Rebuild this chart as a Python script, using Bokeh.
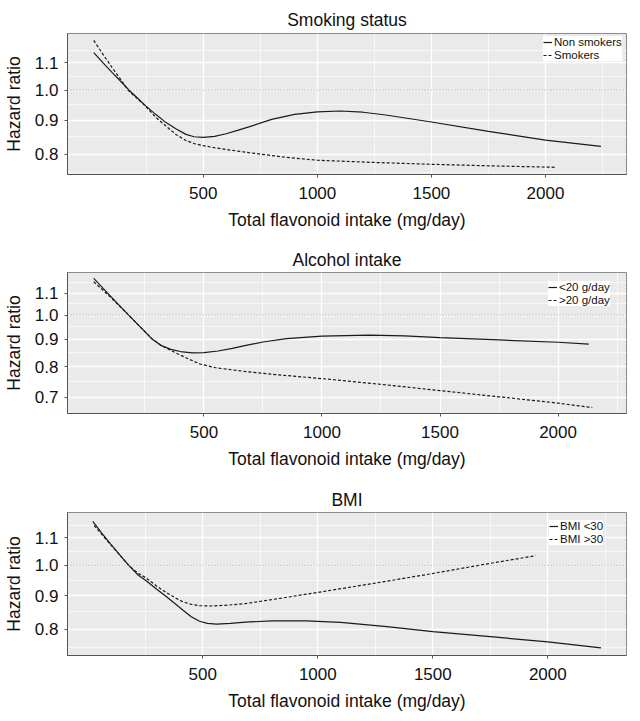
from bokeh.plotting import figure
from bokeh.layouts import column
from bokeh.models import (FixedTicker, PrintfTickFormatter, Span, Legend,
                          LegendItem, Range1d)
from bokeh.embed import file_html
from bokeh.resources import INLINE

FONT = "Liberation Sans"

# ---------------- data ----------------
x_ticks = [500, 1000, 1500, 2000]
x_minor = [250, 750, 1250, 1750, 2250]

# Panel 1: Smoking status
nonsmk_x = [20, 60, 100, 140, 175, 210, 249, 290, 337, 380, 424, 460, 500, 550, 600, 650, 700,
            800, 900, 1000, 1100, 1200, 1300, 1500, 1750, 2000, 2243]
nonsmk_y = [1.140, 1.101, 1.064, 1.030, 1.000, 0.974, 0.946, 0.920, 0.893, 0.874, 0.857, 0.850, 0.848,
            0.851, 0.859, 0.869, 0.880, 0.903, 0.919, 0.927, 0.930, 0.926, 0.917, 0.895, 0.866, 0.840, 0.822]
smk_x = [20, 60, 100, 140, 170, 210, 249, 290, 337, 380, 424, 460, 500, 550, 600, 700, 850,
         1000, 1250, 1500, 1750, 2040]
smk_y = [1.190, 1.134, 1.083, 1.036, 1.000, 0.972, 0.944, 0.911, 0.882, 0.857, 0.839, 0.830, 0.824,
         0.818, 0.813, 0.804, 0.792, 0.783, 0.777, 0.772, 0.768, 0.764]

# Panel 2: Alcohol intake
alc_lo_x = [33, 100, 181, 230, 280, 320, 360, 400, 450, 500, 560, 620, 678, 750, 850, 1000,
            1200, 1350, 1500, 1750, 2000, 2130]
alc_lo_y = [1.172, 1.090, 1.000, 0.950, 0.902, 0.876, 0.862, 0.854, 0.849, 0.850, 0.856, 0.866,
            0.877, 0.890, 0.903, 0.913, 0.917, 0.914, 0.907, 0.898, 0.889, 0.882]
alc_hi_x = [33, 100, 181, 230, 280, 320, 360, 400, 440, 484, 550, 678, 800, 1006, 1250, 1500,
            1750, 2000, 2145]
alc_hi_y = [1.155, 1.085, 1.000, 0.950, 0.902, 0.876, 0.858, 0.841, 0.825, 0.809, 0.796, 0.783,
            0.773, 0.759, 0.741, 0.721, 0.702, 0.683, 0.670]

# Panel 3: BMI
bmi_lo_x = [22, 60, 100, 140, 180, 220, 254, 300, 341, 380, 413, 450, 486, 520, 560, 620, 700,
            800, 950, 1100, 1300, 1500, 1750, 2000, 2231]
bmi_lo_y = [1.165, 1.120, 1.077, 1.036, 0.998, 0.966, 0.948, 0.920, 0.897, 0.875, 0.856, 0.836,
            0.823, 0.817, 0.815, 0.817, 0.821, 0.824, 0.824, 0.820, 0.808, 0.794, 0.780, 0.766, 0.750]
bmi_hi_x = [28, 60, 100, 140, 178, 220, 254, 300, 341, 380, 413, 450, 486, 530, 600, 683, 850,
            1000, 1250, 1500, 1700, 1947]
bmi_hi_y = [1.148, 1.115, 1.074, 1.036, 1.000, 0.972, 0.957, 0.930, 0.910, 0.893, 0.881, 0.873,
            0.869, 0.868, 0.870, 0.875, 0.893, 0.910, 0.940, 0.972, 1.000, 1.034]

y_ticks_a = [0.8, 0.9, 1.0, 1.1]
y_ticks_b = [0.7, 0.8, 0.9, 1.0, 1.1]
y_minor_a = [0.75, 0.85, 0.95, 1.05, 1.15]
y_minor_b = [0.65, 0.75, 0.85, 0.95, 1.05, 1.15]


def make_panel(title, xs1, ys1, lab1, xs2, ys2, lab2, xr, yr, yticks, yminor,
               legend_loc, border_top, frame_h, border_bottom, title_standoff):
    p = figure(frame_width=559, frame_height=frame_h,
               y_axis_type="log",
               x_range=Range1d(*xr), y_range=Range1d(*yr),
               output_backend="svg", toolbar_location=None,
               min_border_left=60, min_border_right=5,
               min_border_top=border_top, min_border_bottom=border_bottom)
    p.background_fill_color = "#EAEAEA"
    p.border_fill_color = "white"
    p.outline_line_color = "#8a8a8a"
    p.outline_line_width = 1

    p.title.text = title
    p.title.align = "center"
    p.title.text_font = FONT
    p.title.text_font_size = "17.5px"
    p.title.text_font_style = "normal"
    p.title.text_color = "#111111"
    p.title.standoff = title_standoff

    xt = FixedTicker(ticks=x_ticks, minor_ticks=x_minor)
    yt = FixedTicker(ticks=yticks, minor_ticks=yminor)
    p.xaxis.ticker = xt
    p.xgrid.ticker = xt
    p.yaxis.ticker = yt
    p.ygrid.ticker = yt
    p.xaxis.formatter = PrintfTickFormatter(format="%d")
    p.yaxis.formatter = PrintfTickFormatter(format="%.1f")

    for g in (p.xgrid, p.ygrid):
        g.grid_line_color = "white"
        g.grid_line_width = 1.3
        g.minor_grid_line_color = "white"
        g.minor_grid_line_width = 0.6

    for ax in (p.xaxis, p.yaxis):
        ax.axis_line_color = "#555555"
        ax.axis_line_width = 1
        ax.major_tick_line_color = "#555555"
        ax.major_tick_in = 0
        ax.major_tick_out = 3
        ax.minor_tick_line_color = None
        ax.major_label_text_font = FONT
        ax.major_label_text_font_size = "17px"
        ax.major_label_text_color = "#111111"
        ax.axis_label_text_font = FONT
        ax.axis_label_text_font_size = "17.5px"
        ax.axis_label_text_font_style = "normal"
        ax.axis_label_text_color = "#111111"

    p.xaxis.axis_label = "Total flavonoid intake (mg/day)"
    p.yaxis.axis_label = "Hazard ratio"
    p.xaxis.major_label_standoff = 8
    p.xaxis.axis_label_standoff = 8
    p.yaxis.major_label_standoff = 5
    p.yaxis.axis_label_standoff = 8

    p.add_layout(Span(location=1.0, dimension="width", line_color="#8c8c8c",
                      line_dash="1 2", line_width=1))

    r1 = p.line(xs1, ys1, line_color="#1a1a1a", line_width=1.2)
    r2 = p.line(xs2, ys2, line_color="#1a1a1a", line_width=1.2, line_dash="3 2")

    leg = Legend(items=[LegendItem(label=lab1, renderers=[r1]),
                        LegendItem(label=lab2, renderers=[r2])],
                 location=legend_loc)
    leg.label_text_font = FONT
    leg.label_text_font_size = "11.5px"
    leg.label_text_color = "#111111"
    leg.glyph_width = 9
    leg.glyph_height = 10
    leg.label_height = 10
    leg.label_standoff = 2
    leg.spacing = 1
    leg.padding = 3
    leg.margin = 0
    leg.background_fill_color = "white"
    leg.background_fill_alpha = 1
    leg.border_line_color = None
    p.add_layout(leg)
    return p


p1 = make_panel("Smoking status", nonsmk_x, nonsmk_y, "Non smokers",
                smk_x, smk_y, "Smokers",
                (-95, 2355), (0.745, 1.219), y_ticks_a, y_minor_a,
                (476, 113), 33, 141, 66, 8)
p2 = make_panel("Alcohol intake", alc_lo_x, alc_lo_y, "<20 g/day",
                alc_hi_x, alc_hi_y, ">20 g/day",
                (-78, 2290), (0.653, 1.2025), y_ticks_b, y_minor_b,
                (481, 107), 32, 141, 65, 6)
p3 = make_panel("BMI", bmi_lo_x, bmi_lo_y, "BMI <30",
                bmi_hi_x, bmi_hi_y, "BMI >30",
                (-88, 2342), (0.7305, 1.202), y_ticks_a, y_minor_a,
                (482, 110), 34, 143, 59, 5)

layout = column(p1, p2, p3, spacing=0)
open("out.html", "w").write(file_html(layout, INLINE))
